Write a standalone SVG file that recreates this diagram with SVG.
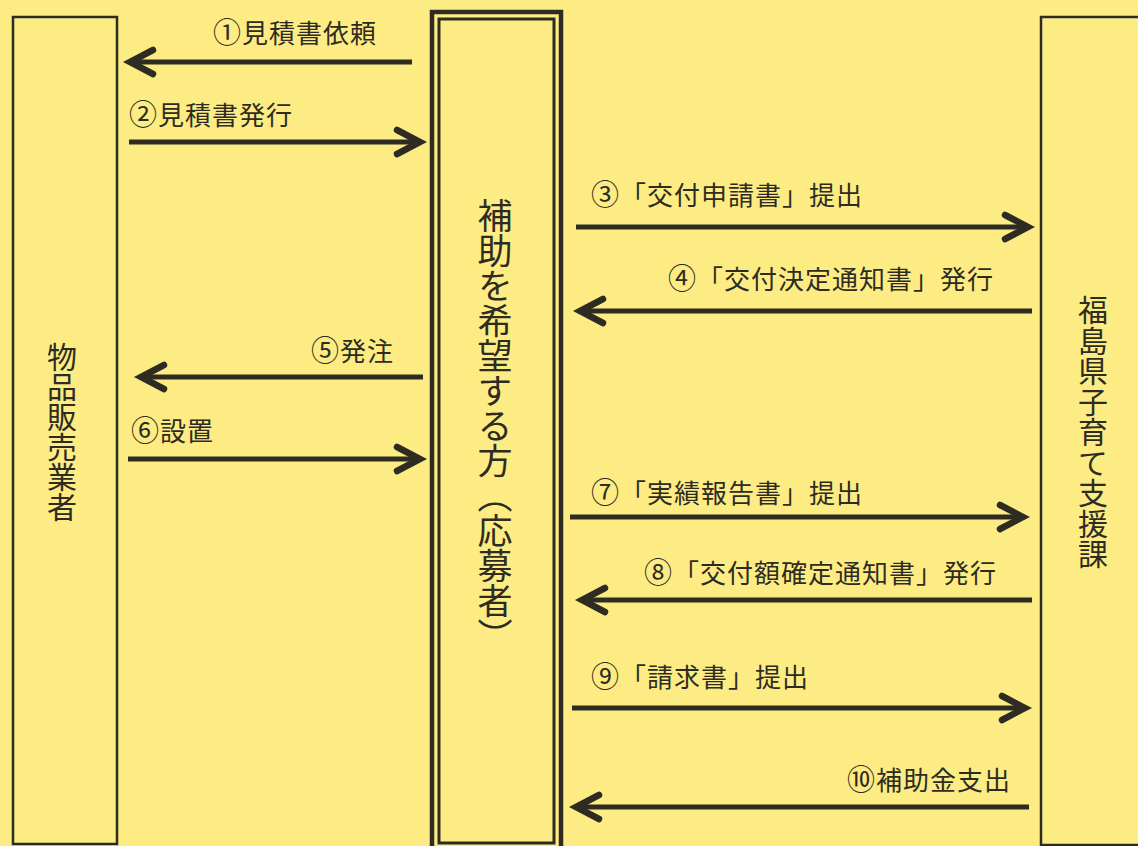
<svg xmlns="http://www.w3.org/2000/svg" width="1138" height="846" viewBox="0 0 1138 846">
<defs>
<style>
.box{fill:none;stroke:#2e2c22;}
.lbl{font-family:"Noto Sans CJK JP","Noto Sans",sans-serif;font-size:26px;fill:#2e2c22;letter-spacing:1px;}
.num{font-size:28px;}
.vt{font-family:"Noto Sans CJK JP","Noto Sans",sans-serif;fill:#2e2c22;writing-mode:vertical-rl;}
.arr{stroke:#2e2c22;stroke-width:5;fill:none;marker-end:url(#head);}
</style>
<marker id="head" markerUnits="userSpaceOnUse" orient="auto" markerWidth="40" markerHeight="40" viewBox="-30 -20 40 40" refX="0" refY="0" overflow="visible">
<path d="M -23 -12 L 0 0 L -23 12" fill="none" stroke="#2e2c22" stroke-width="6.5" stroke-linecap="round" stroke-linejoin="miter"/>
</marker>
</defs>
<rect x="0" y="0" width="1138" height="846" fill="#FDEC84"/>
<g id="vendor">
<rect class="box" x="13" y="17" width="104" height="827" stroke-width="2.5"/>
<text class="vt" x="62" y="342" font-size="30">物品販売業者</text>
</g>
<g id="applicant">
<rect class="box" x="432" y="12" width="129" height="845" stroke-width="4.5"/>
<rect class="box" x="439" y="19" width="115" height="824" stroke-width="3"/>
<text class="vt" x="495" y="198" font-size="35">補助を希望する方（応募者）</text>
</g>
<g id="prefecture">
<rect class="box" x="1041" y="17" width="110" height="828" stroke-width="2.5"/>
<text class="vt" x="1093" y="295" font-size="30" letter-spacing="0.5">福島県子育て支援課</text>
</g>
<g id="connectors">
<line class="arr" x1="412" y1="62" x2="130" y2="62"/>
<line class="arr" x1="129" y1="142" x2="420" y2="142"/>
<line class="arr" x1="576" y1="227" x2="1028" y2="227"/>
<line class="arr" x1="1032" y1="311" x2="580" y2="311"/>
<line class="arr" x1="423" y1="377" x2="141" y2="377"/>
<line class="arr" x1="128" y1="459" x2="420" y2="459"/>
<line class="arr" x1="570" y1="517" x2="1023" y2="517"/>
<line class="arr" x1="1032" y1="600" x2="582" y2="600"/>
<line class="arr" x1="572" y1="708" x2="1025" y2="708"/>
<line class="arr" x1="1029" y1="807" x2="576" y2="807"/>
<text class="lbl" x="213" y="43"><tspan class="num">①</tspan>見積書依頼</text>
<text class="lbl" x="129" y="125"><tspan class="num">②</tspan>見積書発行</text>
<text class="lbl" x="591" y="205"><tspan class="num">③</tspan>「交付申請書」提出</text>
<text class="lbl" x="668" y="289"><tspan class="num">④</tspan>「交付決定通知書」発行</text>
<text class="lbl" x="311" y="361"><tspan class="num">⑤</tspan>発注</text>
<text class="lbl" x="131" y="441"><tspan class="num">⑥</tspan>設置</text>
<text class="lbl" x="591" y="503"><tspan class="num">⑦</tspan>「実績報告書」提出</text>
<text class="lbl" x="644" y="583"><tspan class="num">⑧</tspan>「交付額確定通知書」発行</text>
<text class="lbl" x="591" y="687"><tspan class="num">⑨</tspan>「請求書」提出</text>
<text class="lbl" x="847" y="790"><tspan class="num">⑩</tspan>補助金支出</text>
</g>
</svg>
